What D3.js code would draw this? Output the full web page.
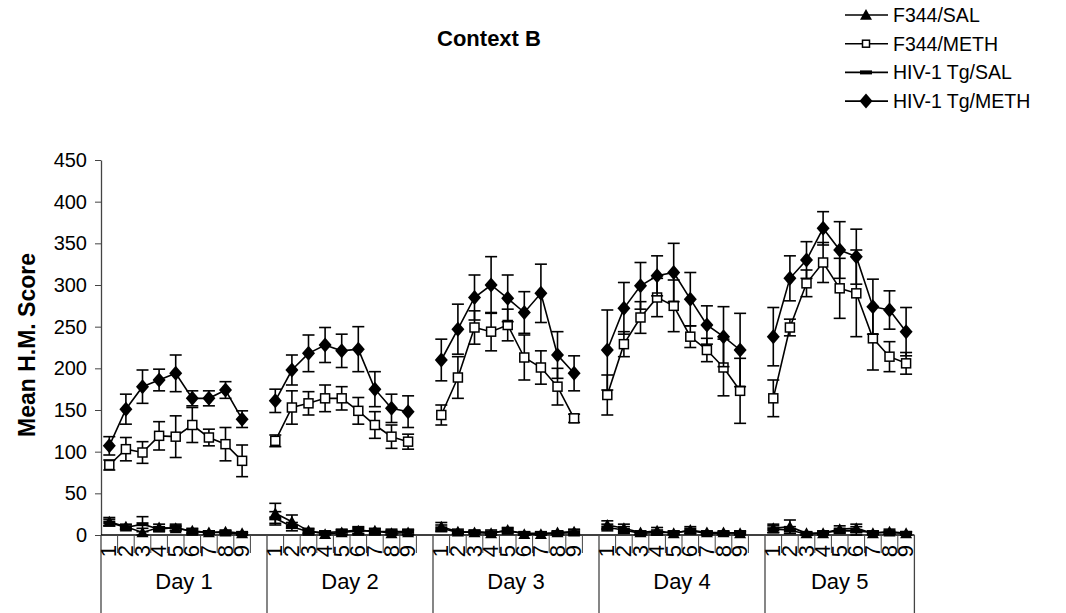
<!DOCTYPE html>
<html><head><meta charset="utf-8">
<script src="https://cdn.jsdelivr.net/npm/d3@7"></script>
<style>body{margin:0;background:#fff;} text{font-family:Arial,"Liberation Sans",sans-serif;fill:#000;}</style>
</head><body><svg id="c" width="1066" height="613"></svg>
<script>
const days = ["Day 1","Day 2","Day 3","Day 4","Day 5"];
const trials = ["1","2","3","4","5","6","7","8","9"];
const yTicks = [0,50,100,150,200,250,300,350,400,450];
const seriesNames = ["F344/SAL","F344/METH","HIV-1 Tg/SAL","HIV-1 Tg/METH"];

// means and SEM, one row per day, 9 trials each
const f344SalMean = [[16,10,3,9,8,5,3,4,2],[26,16,5,1,3,5,5,2,3],[10,4,3,2,6,1,1,3,4],[12,8,3,5,2,6,3,3,2],[8,10,2,2,7,8,2,4,2]];
const f344SalSem  = [[5,3,5,4,3,3,2,2,2],[12,8,3,2,3,4,3,3,3],[5,3,2,2,3,2,2,2,3],[5,5,2,4,2,4,2,2,2],[5,8,2,2,4,5,2,3,2]];
const f344MethMean = [[84,103,99,119,118,132,117,109,89],[113,153,158,164,164,149,132,118,112],[144,189,249,244,252,213,201,178,140],[168,229,261,285,275,238,222,201,173],[164,249,302,327,296,290,236,214,206]];
const f344MethSem  = [[6,14,13,17,25,21,10,20,19],[7,20,14,16,14,16,16,14,9],[12,25,20,23,19,27,20,22,5],[24,15,19,23,31,13,14,34,39],[22,10,16,24,36,52,38,18,13]];
const tgSalMean = [[15,9,13,7,9,4,3,3,1],[20,10,4,3,4,6,4,4,4],[8,3,4,3,5,2,2,2,3],[9,6,2,3,3,5,2,2,3],[7,6,1,3,5,5,3,3,2]];
const tgSalSem  = [[4,3,9,3,4,3,2,2,2],[8,5,3,2,3,4,3,3,3],[4,2,2,3,3,2,2,2,3],[4,4,2,3,2,3,2,2,2],[4,4,2,2,3,5,2,2,2]];
const tgMethMean = [[107,151,178,186,194,164,164,174,139],[161,198,218,228,221,223,175,152,148],[210,247,285,300,284,267,290,216,194],[222,272,299,311,315,283,252,238,222],[238,308,330,368,342,334,274,270,244]];
const tgMethSem  = [[11,18,20,13,22,9,9,10,10],[14,18,22,21,20,27,21,17,19],[25,30,27,34,28,25,35,28,21],[48,31,28,24,35,32,23,36,44],[35,27,22,20,34,33,33,23,29]];

const svg = d3.select("#c");
const FONT = 22;

// slots: 9 trials per day, plus an empty slot after days 1-4
const slots = [];
days.forEach((d, di) => {
  trials.forEach(t => slots.push(di + "-" + t));
  if (di < days.length - 1) slots.push(di + "-gap");
});
const x = d3.scaleBand().domain(slots).range([101, 914.4]).paddingInner(0).paddingOuter(0);
const y = d3.scaleLinear().domain([0, 450]).range([535, 160]);
const cx = (di, t) => x(di + "-" + t) + x.bandwidth() / 2;

// y axis
const yAxis = d3.axisLeft(y).tickValues(yTicks).tickSize(6).tickPadding(8).tickSizeOuter(0);
const ya = svg.append("g").attr("transform", "translate(101,0)").call(yAxis);
ya.select(".domain").attr("stroke", "#444").attr("stroke-width", 1.3);
ya.selectAll(".tick line").attr("stroke", "#444");
ya.selectAll(".tick text").attr("font-size", 20).attr("font-family", "Arial, Liberation Sans, sans-serif").attr("fill", "#000");

// x axis baseline
svg.append("line").attr("x1", x.range()[0]).attr("x2", x.range()[1]).attr("y1", y(0)).attr("y2", y(0))
  .attr("stroke", "#000").attr("stroke-width", 1.3);

// group boundaries and slot ticks
const dayStart = di => x(di + "-1");
const dayEnd = di => di < days.length - 1 ? x(di + "-gap") + x.bandwidth() : x(di + "-9") + x.bandwidth();
days.forEach((d, di) => {
  const s = dayStart(di), e = dayEnd(di);
  svg.append("line").attr("x1", s).attr("x2", s).attr("y1", y(0)).attr("y2", 613).attr("stroke", "#444").attr("stroke-width", 1.3);
  if (di === days.length - 1) svg.append("line").attr("x1", e).attr("x2", e).attr("y1", y(0)).attr("y2", 613).attr("stroke", "#444").attr("stroke-width", 1.3);
  const daySlots = slots.filter(k => k.startsWith(di + "-"));
  daySlots.slice(1).forEach(k => {
    svg.append("line").attr("x1", x(k)).attr("x2", x(k)).attr("y1", y(0)).attr("y2", 553).attr("stroke", "#444").attr("stroke-width", 1);
  });
  trials.forEach(t => {
    svg.append("text").attr("transform", `translate(${cx(di, t) + 7},551) rotate(-90)`)
      .attr("text-anchor", "middle").attr("font-size", FONT).text(t);
  });
  svg.append("text").attr("x", (s + e) / 2).attr("y", 589).attr("text-anchor", "middle").attr("font-size", FONT).text(d);
});

// series
const series = [
  {name: seriesNames[0], mean: f344SalMean, sem: f344SalSem, marker: "tri"},
  {name: seriesNames[2], mean: tgSalMean, sem: tgSalSem, marker: "dash"},
  {name: seriesNames[1], mean: f344MethMean, sem: f344MethSem, marker: "sq"},
  {name: seriesNames[3], mean: tgMethMean, sem: tgMethSem, marker: "dia"}
];
const line = d3.line().x(d => d.x).y(d => d.y);
function drawMarker(g, type, px, py, legend) {
  if (type === "tri") {
    const s = 6;
    g.append("path").attr("d", `M${px},${py - s}L${px + s},${py + s * 0.8}L${px - s},${py + s * 0.8}Z`).attr("fill", "#000");
  } else if (type === "sq") {
    const s = legend ? 3.5 : 4.5;
    g.append("rect").attr("x", px - s).attr("y", py - s).attr("width", 2 * s).attr("height", 2 * s)
      .attr("fill", "#fff").attr("stroke", "#000").attr("stroke-width", 1.5);
  } else if (type === "dia") {
    const w = 6.5, h = 7.5;
    g.append("path").attr("d", `M${px},${py - h}L${px + w},${py}L${px},${py + h}L${px - w},${py}Z`).attr("fill", "#000");
  } else if (type === "dash") {
    g.append("rect").attr("x", px - 6).attr("y", py - 2).attr("width", 12).attr("height", 4).attr("fill", "#000");
  }
}
const gl = svg.append("g");
series.forEach(s => {
  days.forEach((d, di) => {
    const pts = trials.map((t, ti) => ({x: cx(di, t), y: y(s.mean[di][ti]), m: s.mean[di][ti], e: s.sem[di][ti]}));
    gl.append("path").attr("d", line(pts)).attr("fill", "none").attr("stroke", "#000").attr("stroke-width", 1.6);
    pts.forEach(p => {
      const lo = y(Math.max(0, p.m - p.e)), hi = y(p.m + p.e);
      gl.append("line").attr("x1", p.x).attr("x2", p.x).attr("y1", lo).attr("y2", hi).attr("stroke", "#000").attr("stroke-width", 1.6);
      gl.append("line").attr("x1", p.x - 6).attr("x2", p.x + 6).attr("y1", hi).attr("y2", hi).attr("stroke", "#000").attr("stroke-width", 1.6);
      gl.append("line").attr("x1", p.x - 6).attr("x2", p.x + 6).attr("y1", lo).attr("y2", lo).attr("stroke", "#000").attr("stroke-width", 1.6);
    });
    pts.forEach(p => drawMarker(gl, s.marker, p.x, p.y, false));
  });
});

// title
svg.append("text").attr("x", 489).attr("y", 46).attr("text-anchor", "middle").attr("font-size", 22).attr("font-weight", "bold").text("Context B");
// y title
svg.append("text").attr("transform", "translate(35,345) rotate(-90)").attr("text-anchor", "middle")
  .attr("font-size", 23).attr("font-weight", "bold").text("Mean H.M. Score");

// legend
const legendOrder = [
  {name: seriesNames[0], marker: "tri"},
  {name: seriesNames[1], marker: "sq"},
  {name: seriesNames[2], marker: "dash"},
  {name: seriesNames[3], marker: "dia"}
];
const lg = svg.append("g");
legendOrder.forEach((L, i) => {
  const cy = 15 + i * 28.7;
  lg.append("line").attr("x1", 845).attr("x2", 888).attr("y1", cy).attr("y2", cy).attr("stroke", "#000").attr("stroke-width", 1.6);
  drawMarker(lg, L.marker, 866, cy, true);
  lg.append("text").attr("x", 893).attr("y", cy + 7).attr("font-size", 19.5).text(L.name);
});
</script></body></html>
